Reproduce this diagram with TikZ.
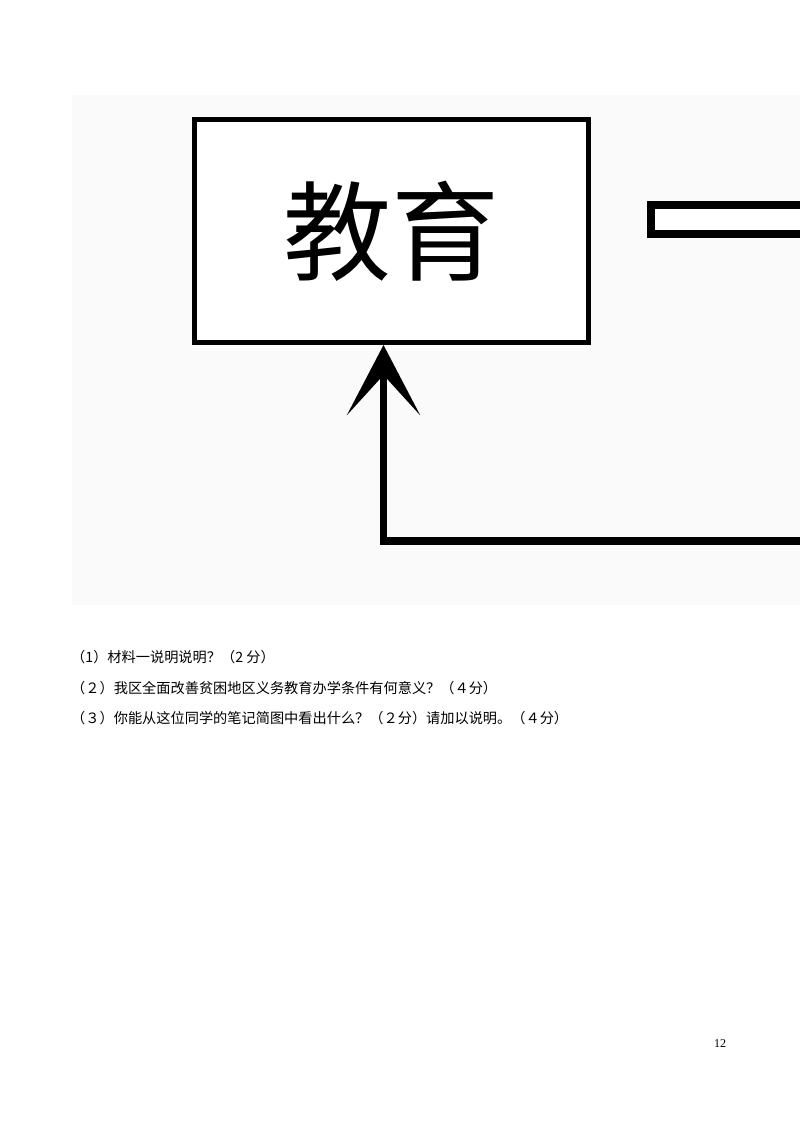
\documentclass[tikz,border=0pt]{standalone}
\usepackage{fontspec}
\setmainfont{Liberation Serif}
\newfontfamily\cjk{Noto Sans CJK SC}
\usetikzlibrary{arrows.meta}
\tikzset{
  mainbox/.style={draw=black, line width=5pt, fill=white, minimum width=394pt, minimum height=223pt, inner sep=0pt},
  sidebox/.style={draw=black, line width=8pt, fill=white, minimum width=245pt, minimum height=29pt, inner sep=0pt},
  flowline/.style={draw=black, line width=7.5pt, line join=miter, -{Stealth[length=70pt, width=73pt, inset=40pt]}},
  question/.style={anchor=base west, inner sep=0pt, font=\cjk\fontsize{14.2pt}{16pt}\selectfont},
  pagenum/.style={anchor=base, inner sep=0pt, font=\fontsize{12pt}{14pt}\selectfont}
}
\begin{document}
\begin{tikzpicture}[x=1pt, y=-1pt]
\useasboundingbox (0,0) rectangle (800,1132);
\clip (0,0) rectangle (800,1132);
\fill[white] (0,0) rectangle (800,1132);
% photo background
\fill[black!2] (72,95) rectangle (800,605);
% boxes
\node[mainbox, font=\cjk\fontsize{108pt}{112pt}\selectfont] (edu) at (391.5,231) {教育};
\node[sidebox] (side) at (773.5,219.5) {};
% feedback arrow
\coordinate (lineend) at (830,541);
\draw[flowline] (lineend) -| ([xshift=-8pt]edu.south);
% questions
\node[question] (q1) at (71,662) {（1）材料一说明说明？（2 分）};
\node[question] (q2) at (71,693) {（２）我区全面改善贫困地区义务教育办学条件有何意义？（４分）};
\node[question] (q3) at (71,723) {（３）你能从这位同学的笔记简图中看出什么？（２分）请加以说明。（４分）};
% page number
\node[pagenum] (pg) at (720,1047) {12};
\end{tikzpicture}
\end{document}
